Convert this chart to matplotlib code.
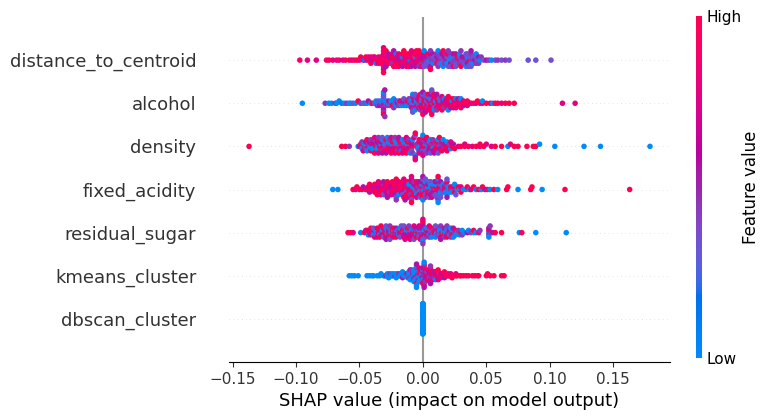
import numpy as np
import matplotlib
matplotlib.use("Agg")
import matplotlib.pyplot as plt
from matplotlib.colors import LinearSegmentedColormap
import matplotlib.cm as cm

# feature names, bottom row first
features = ["dbscan_cluster", "kmeans_cluster", "residual_sugar", "fixed_acidity",
            "density", "alcohol", "distance_to_centroid"]

# SHAP value (x1000) -> feature value level of every sample there (0 = low ... 9 = high)
dist_points = {
    -97: "8", -91: "7", -84: "7", -76: "8", -74: "9", -71: "7", -68: "7", -66: "8",
    -63: "7", -61: "8", -58: "9", -56: "7", -54: "8", -52: "9", -50: "7", -49: "9",
    -47: "8", -46: "1", -45: "9", -44: "7", -43: "8", -42: "9", -41: "79", -40: "5",
    -39: "8", -38: "97", -37: "2", -36: "9", -35: "87", -34: "9", -33: "58", -32: "79",
    -31: "9789579", -30: "97", -29: "7859", -28: "9", -27: "795", -26: "85", -25: "9",
    -24: "7947", -23: "95", -22: "7", -21: "9928", -20: "75", -19: "979", -18: "5",
    -17: "87", -16: "72995", -15: "9", -14: "578", -13: "97", -12: "8", -11: "7599",
    -10: "18", -9: "9757", -8: "5", -7: "98", -6: "73795", -5: "9", -4: "78",
    -3: "9749", -2: "5", -1: "7498",
    0: "95", 1: "4730", 2: "8", 3: "453", 4: "93", 5: "04", 6: "37549", 7: "4", 8: "305",
    9: "43", 10: "0", 11: "3594", 12: "40", 13: "743", 14: "3", 15: "4305", 16: "09",
    17: "354", 18: "4", 19: "5309", 20: "34", 21: "0", 22: "3543", 23: "30", 24: "458",
    25: "4", 26: "0353", 27: "49", 28: "3", 29: "5340", 30: "94", 31: "35", 32: "4",
    33: "453", 34: "30", 35: "4053", 36: "3", 37: "93", 38: "0435", 39: "4", 40: "30",
    41: "5", 42: "340", 43: "3", 44: "54", 45: "0", 46: "4", 48: "3", 50: "5", 52: "4",
    54: "0", 57: "3", 59: "4", 62: "3", 65: "4", 68: "3", 83: "3", 89: "3", 101: "3",
}

alcohol_points = {
    -95: "0", -77: "4", -74: "0", -72: "0", -69: "9", -68: "0", -66: "0", -64: "1",
    -62: "0", -60: "4", -58: "0", -57: "0", -55: "3", -53: "0", -51: "9", -49: "4",
    -47: "0", -46: "3", -44: "0", -43: "5", -41: "0", -40: "9", -38: "3", -37: "0",
    -36: "4", -35: "03", -34: "5", -33: "40",
    -31: "43504353409", -30: "54", -29: "30", -28: "4", -27: "05", -26: "3", -25: "40",
    -24: "9", -23: "04", -22: "3", -21: "40", -20: "5", -19: "04", -18: "39", -17: "0",
    -16: "45", -15: "03", -14: "7", -13: "40", -12: "39", -11: "04", -10: "53",
    -9: "307", -8: "7403", -7: "05", -6: "397403", -5: "40", -4: "7543", -3: "093797",
    -2: "49", -1: "70539", 0: "970459", 1: "59", 2: "0794735", 3: "93", 4: "794079",
    5: "37", 6: "907395", 7: "7493", 8: "09", 9: "953709", 10: "70", 11: "397945",
    12: "97", 13: "739", 14: "9073",
    15: "979", 16: "75", 17: "904", 18: "97", 19: "579", 20: "90", 21: "797", 22: "95",
    23: "709", 24: "97", 25: "579", 26: "07", 27: "99", 28: "75", 29: "97", 30: "709",
    31: "9", 32: "75", 33: "9", 35: "97", 37: "9", 38: "7", 40: "9", 42: "7", 43: "9",
    45: "9", 47: "70", 50: "9", 53: "9", 55: "0", 57: "9", 59: "9", 62: "7", 65: "9",
    68: "9", 72: "9", 110: "7", 120: "7",
}

density_points = {
    -137: "9", -64: "9", -61: "9", -58: "4",
    -51: "0", -50: "5", -49: "9", -48: "04", -47: "7", -46: "90", -45: "45", -44: "09",
    -43: "74", -42: "05", -41: "94", -40: "370", -39: "5", -38: "0497", -37: "9",
    -36: "405", -35: "0974", -34: "7", -33: "095", -32: "4053", -31: "7", -30: "0439",
    -29: "95", -28: "0", -27: "54907", -26: "4", -25: "97", -24: "3059", -23: "9",
    -22: "074", -21: "5390", -20: "4", -19: "795", -18: "0459", -17: "3", -16: "07",
    -15: "54907", -14: "4", -13: "97", -12: "3059", -11: "94", -10: "0", -9: "45973",
    -8: "04", -7: "7", -6: "03597", -5: "94", -4: "0", -3: "5497", -2: "0", -1: "975",
    0: "045970", 1: "9", 2: "0743", 3: "549", 4: "0", 5: "9735", 6: "03", 7: "94",
    8: "0754", 9: "5", 10: "049", 11: "97", 12: "03", 13: "9", 14: "045", 15: "79",
    16: "0", 17: "45", 18: "9", 19: "07", 20: "9", 21: "4", 22: "07", 23: "9", 24: "5",
    25: "9", 28: "7", 30: "9", 33: "97", 36: "9", 39: "7", 42: "9", 45: "79", 48: "9",
    50: "7", 54: "7", 57: "9", 62: "9", 67: "0", 69: "7", 72: "9", 75: "9", 82: "9",
    87: "9", 89: "9", 92: "0", 104: "0", 127: "0", 140: "0", 179: "0",
}

acidity_points = {
    -71: "0", -67: "0", -55: "9", -53: "7", -52: "9", -50: "8", -48: "9", -47: "5",
    -45: "7", -44: "9", -43: "7", -42: "59", -41: "9", -40: "7", -39: "95", -38: "79",
    -37: "9", -36: "5979", -35: "7", -34: "957", -33: "79", -32: "9", -31: "79435",
    -30: "97", -29: "5", -28: "9795", -27: "7", -26: "93", -25: "75967", -24: "9",
    -23: "579", -22: "95", -21: "7394", -20: "9", -19: "57907", -18: "79", -17: "9",
    -16: "795739", -15: "97", -14: "5", -13: "79359", -12: "97", -11: "5790", -10: "4",
    -9: "795379", -8: "90", -7: "7594", -6: "0", -5: "735097", -4: "94", -3: "0975",
    -2: "3", -1: "074095", 0: "9305", 1: "04", 2: "973043", 3: "4", 4: "0957",
    5: "03", 6: "904053", 7: "7", 8: "0950", 9: "43", 10: "097035", 11: "3",
    12: "0490", 13: "97", 14: "03053", 15: "4", 16: "030", 17: "97", 18: "04",
    19: "0953", 20: "30", 21: "0", 22: "49", 23: "0", 24: "07", 25: "90", 26: "3",
    27: "0", 28: "9", 29: "0", 30: "79", 32: "0", 34: "0", 35: "9", 37: "0", 38: "7",
    40: "9", 42: "0", 44: "9", 46: "0", 47: "9", 49: "5", 51: "9", 53: "0", 56: "9",
    59: "0", 66: "9", 67: "9", 75: "0", 85: "9", 86: "9", 94: "0", 112: "9", 163: "9",
}

sugar_points = {
    -59: "9", -57: "9", -55: "7", -49: "0", -46: "9", -45: "5", -44: "79", -43: "0",
    -42: "97", -41: "59", -40: "7", -39: "9503", -38: "7", -37: "503", -36: "97",
    -35: "7", -34: "59079", -33: "9", -32: "705", -31: "93", -30: "7", -29: "590735",
    -28: "0", -27: "95", -26: "70943", -25: "0", -24: "97", -23: "50397", -22: "9",
    -21: "0459", -20: "73", -19: "0", -18: "79503", -17: "3", -16: "97", -15: "045973",
    -14: "7", -13: "905", -12: "79", -11: "035974", -10: "7", -9: "905", -8: "7",
    -7: "094573", -6: "9", -5: "3059", -4: "74", -3: "904537", -2: "7", -1: "90459",
    0: "7350947", 1: "905", 2: "43", 3: "0790", 4: "5", 5: "90347", 6: "4", 7: "0590",
    8: "34", 9: "9", 10: "74903", 11: "0", 12: "54", 13: "903", 14: "0745", 15: "9",
    16: "30", 17: "954", 18: "0", 19: "35094", 20: "4", 21: "953", 22: "04", 23: "709",
    24: "50", 25: "4", 26: "90", 27: "0", 28: "34", 29: "0", 30: "9", 31: "04", 33: "0",
    35: "5", 36: "0", 38: "4", 40: "09", 42: "0", 44: "9", 45: "4", 52: "09450", 53: "4",
    55: "5", 57: "9", 62: "9", 76: "0", 78: "9", 89: "0", 113: "0",
}

kmeans_points = {
    -58: "0", -56: "0", -54: "0", -51: "0", -44: "0", -42: "0", -40: "0", -39: "0",
    -36: "0", -34: "0", -33: "0", -31: "0", -30: "0", -29: "5", -28: "00", -27: "0",
    -26: "04", -25: "0", -24: "00", -23: "0", -22: "50", -21: "0", -20: "00", -19: "04",
    -18: "0", -17: "00", -16: "50", -15: "0", -14: "00", -13: "04",
    -12: "050", -11: "0040", -10: "05", -9: "004004", -8: "050", -7: "0040500",
    -6: "00500", -5: "00490050", -4: "05004", -3: "09045007", -2: "05090",
    -1: "0094050", 0: "905700459", 1: "97450", 2: "0597594", 3: "9754", 4: "795097",
    5: "9745", 6: "597954", 7: "954", 8: "79597", 9: "9745", 10: "57970",
    11: "95", 12: "7979", 13: "945", 14: "797", 15: "95", 16: "97", 17: "59",
    18: "97", 19: "9", 20: "79", 21: "9", 22: "97", 23: "9", 24: "9", 26: "97", 27: "9",
    29: "9", 30: "9", 32: "9", 34: "9", 36: "9", 39: "9", 41: "9", 43: "9", 44: "9",
    50: "9", 51: "9", 53: "9", 56: "9", 62: "9", 64: "9",
}

dbscan_points = {0: "0" * 150}

rows = [dbscan_points, kmeans_points, sugar_points, acidity_points,
        density_points, alcohol_points, dist_points]


def lch2rgb(l, c, h):
    a = c * np.cos(h)
    b = c * np.sin(h)
    fy = (l + 16) / 116
    fx = fy + a / 500
    fz = fy - b / 200

    def finv(t):
        return t ** 3 if t ** 3 > 0.008856 else (t - 16 / 116) / 7.787
    xyz = np.array([0.95047 * finv(fx), finv(fy), 1.08883 * finv(fz)])
    m = np.array([[3.2406, -1.5372, -0.4986],
                  [-0.9689, 1.8758, 0.0415],
                  [0.0557, -0.2040, 1.0570]])
    rgb = m @ xyz
    rgb = np.where(rgb > 0.0031308, 1.055 * np.abs(rgb) ** (1 / 2.4) - 0.055, 12.92 * rgb)
    return np.clip(rgb, 0, 1)


# shap style red-blue map
nsteps = 100
l_vals = list(np.linspace(54, 40, nsteps // 2)) + list(np.linspace(40, 54, nsteps // 2))
c_vals = np.linspace(70, 90, nsteps)
h_vals = np.linspace(4.6588, 0.35470565 + 2 * np.pi, nsteps)
cols = [lch2rgb(l, c, h) for l, c, h in zip(l_vals, c_vals, h_vals)]
red_blue = LinearSegmentedColormap.from_list("red_blue", list(zip(np.linspace(0, 1, nsteps), cols)))

fig = plt.figure(figsize=(7.69, 4.2), dpi=100)
ax = fig.add_axes([0.2978, 0.1381, 0.5735, 0.8214])
ax.axvline(x=0, color="#999999", zorder=-1)

row_height = 0.4
for pos, pts in enumerate(rows):
    xs = []
    cv = []
    for v, lev in pts.items():
        for ch in lev:
            xs.append(v / 1000.0)
            cv.append(int(ch) / 9.0)
    xs = np.array(xs)
    cv = np.array(cv)
    ax.axhline(y=pos, color="#cccccc", lw=0.5, dashes=(1, 5), zorder=-1)
    N = len(xs)
    # beeswarm stacking, as shap does it
    quant = np.round(100 * (xs - xs.min()) / (xs.max() - xs.min() + 1e-8))
    inds = np.argsort(quant, kind="stable")
    layer = 0
    last_bin = -1
    ys = np.zeros(N)
    for ind in inds:
        if quant[ind] != last_bin:
            layer = 0
        ys[ind] = np.ceil(layer / 2) * ((layer % 2) * 2 - 1)
        layer += 1
        last_bin = quant[ind]
    ys *= 0.9 * (row_height / np.max(ys + 1))
    ax.scatter(xs, pos + ys, c=cv, cmap=red_blue, vmin=0, vmax=1, s=16,
               linewidth=0, zorder=3)

ax.xaxis.set_ticks_position("bottom")
ax.yaxis.set_ticks_position("none")
ax.spines["right"].set_visible(False)
ax.spines["top"].set_visible(False)
ax.spines["left"].set_visible(False)
ax.tick_params(color="#333333", labelcolor="#333333")
ax.set_yticks(range(len(features)))
ax.set_yticklabels(features, fontsize=13)
ax.tick_params("y", length=20, width=0.5, which="major")
ax.tick_params("x", labelsize=11)
ax.set_ylim(-1, len(features))
ax.set_xlabel("SHAP value (impact on model output)", fontsize=13)

m = cm.ScalarMappable(cmap=red_blue)
m.set_array([0, 1])
cax = fig.add_axes([0.905, 0.1476, 0.0078, 0.814])
cb = fig.colorbar(m, cax=cax, ticks=[0, 1])
cb.set_ticklabels(["Low", "High"])
cb.set_label("Feature value", size=12, labelpad=0)
cb.ax.tick_params(labelsize=11, length=0)
cb.outline.set_visible(False)

fig.savefig("out.png", dpi=100)
